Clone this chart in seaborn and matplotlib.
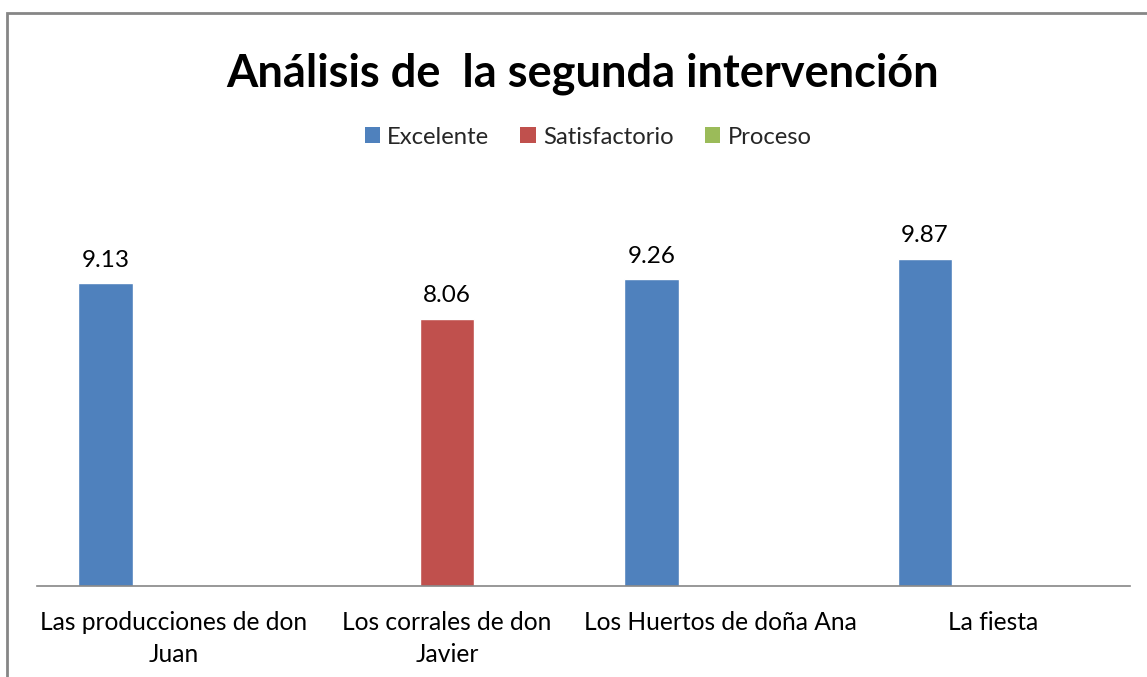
import matplotlib
matplotlib.use("Agg")
import matplotlib.pyplot as plt
import seaborn as sns
import pandas as pd
from matplotlib.patches import Patch, Rectangle

# ---- data ----
categories = ["Las producciones de don\nJuan", "Los corrales de don\nJavier",
              "Los Huertos de doña Ana", "La fiesta"]
series_names = ["Excelente", "Satisfactorio", "Proceso"]
bar_series = ["Excelente", "Satisfactorio", "Excelente", "Excelente"]
bar_values = [9.13, 8.06, 9.26, 9.87]
colors = ["#4F81BD", "#C0504D", "#9BBB59"]
title = "Análisis de  la segunda intervención"

df = pd.DataFrame({"cat": categories, "serie": bar_series, "val": bar_values})

sns.set_theme(style="white")
plt.rcParams["font.family"] = ["Lato", "DejaVu Sans"]

W, H = 1147, 677
fig = plt.figure(figsize=(W / 100, H / 100), dpi=100)
ax = fig.add_axes([37 / W, 1 - 585.5 / H, (1130 - 37) / W, (585.5 - 188.5) / H])

sns.barplot(data=df, x="cat", y="val", hue="serie", hue_order=series_names,
            order=categories, palette=colors, width=0.75, gap=0.2, dodge=True,
            saturation=1, errorbar=None, legend=False, ax=ax)

for cont in ax.containers:
    ax.bar_label(cont, fmt="%.2f", padding=9, fontsize=17.5, color="black")

ax.set_ylim(0, 12)
ax.set_xlim(-0.5, 3.5)
ax.set_xlabel("")
ax.set_ylabel("")
ax.set_yticks([])
for s in ["left", "right", "top"]:
    ax.spines[s].set_visible(False)
ax.spines["bottom"].set_color("#868686")
ax.spines["bottom"].set_linewidth(1.2)
ax.tick_params(axis="x", length=0, pad=18, labelsize=17.7, labelcolor="black")
for t in ax.get_xticklabels():
    t.set_linespacing(1.48)

fig.text(583 / W, 1 - 74 / H, title, ha="center", va="center",
         fontsize=32.5, fontweight="bold", color="black")

handles = [Patch(facecolor=c, edgecolor="none", label=n) for c, n in zip(colors, series_names)]
fig.legend(handles=handles, loc="center", bbox_to_anchor=(588 / W, 1 - 137 / H),
           ncol=3, frameon=False, fontsize=17.2, handlelength=0.65, handleheight=0.65,
           handletextpad=0.3, columnspacing=1.3)

# chart frame
fig.patches.append(Rectangle((7.5 / W, -0.1), 1.2, 1 - 13 / H + 0.1,
                             transform=fig.transFigure, fill=False,
                             edgecolor="#868686", linewidth=2))

fig.savefig("out.png", dpi=100, facecolor="white")
